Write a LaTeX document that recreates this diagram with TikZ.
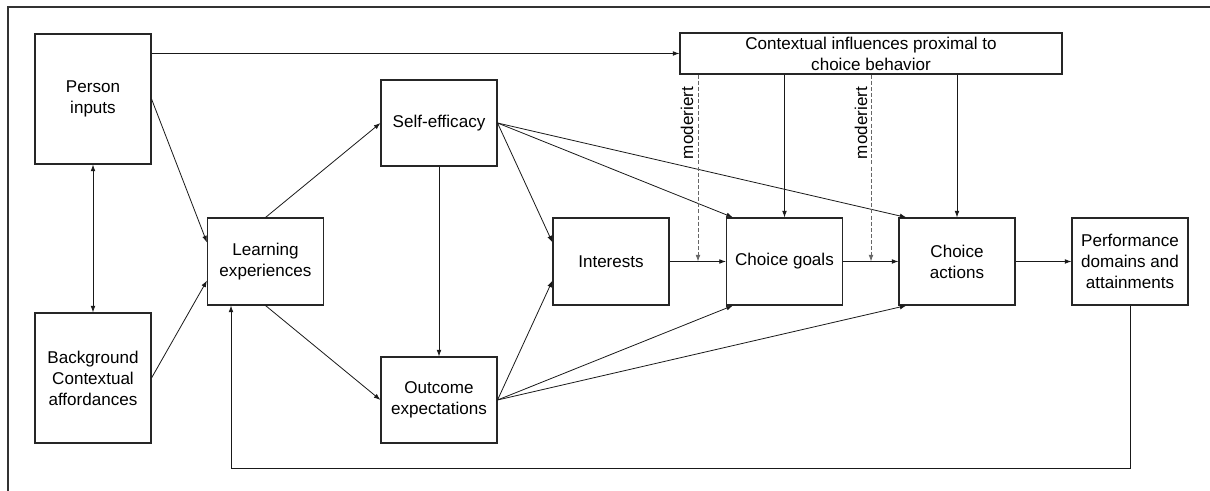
\documentclass[tikz,border=0pt]{standalone}
\usepackage{fontspec}
\setmainfont{Liberation Sans}
\usetikzlibrary{arrows.meta,calc}
\begin{document}
\begin{tikzpicture}[x=0.75pt,y=-0.75pt,
 box/.style={draw=black!85, line width=0.8pt, align=center, font=\fontsize{12.8}{15.75}\selectfont, inner sep=0pt},
 wide/.style={box, minimum width=87pt, minimum height=65.25pt},
 tall/.style={box, minimum width=87pt, minimum height=97.5pt},
 arr/.style={-{Latex[length=5pt,width=3.6pt]}, line width=0.6pt, draw=black!90},
 dasharr/.style={arr, dash pattern=on 3pt off 1.6pt, draw=black!60},
 lab/.style={font=\fontsize{12.8}{15.75}\selectfont, rotate=90, inner sep=0pt}]
\useasboundingbox (0,0) rectangle (1210,491);
\draw[line width=0.8pt, black!80] (8,491) -- (8,7) -- (1210,7);

\node[tall] (person) at (93,99) {Person\\inputs};
\node[tall] (back) at (93,378) {Background\\Contextual\\affordances};
\node[wide] (learn) at (265.5,261.5) {Learning\\experiences};
\node[box, minimum width=87pt, minimum height=64.5pt] (self) at (439,123) {Self-efficacy};
\node[box, minimum width=87pt, minimum height=64.5pt] (outc) at (439,400) {Outcome\\expectations};
\node[wide] (inter) at (611,261.5) {Interests};
\node[wide] (goals) at (784.5,261.5) {Choice goals};
\node[wide] (act) at (957,261.5) {Choice\\actions};
\node[wide] (perf) at (1130,261.5) {Performance\\domains and\\attainments};
\node[box, minimum width=286.5pt, minimum height=30.75pt] (ctx) at (871,53.5) {Contextual influences proximal to\\choice behavior};

\draw[arr] (person.east |- ctx.west) -- (ctx.west);
\draw[arr, {Latex[length=5pt,width=3.6pt]}-{Latex[length=5pt,width=3.6pt]}] (person.south) -- (back.north);
\draw[arr] (person.east) -- ($(learn.north west)+(0,25)$);
\draw[arr] (back.east) -- ($(learn.south west)+(0,-25)$);
\draw[arr] (learn.north) -- (self.west);
\draw[arr] (learn.south) -- (outc.west);
\draw[arr] (self.south) -- (outc.north);
\draw[arr] (self.east) -- ($(inter.north west)+(0,25)$);
\draw[arr] (self.east) -- ($(goals.north west)+(7,0)$);
\draw[arr] (self.east) -- ($(act.north west)+(8,0)$);
\draw[arr] (outc.east) -- ($(inter.south west)+(0,-25)$);
\draw[arr] (outc.east) -- ($(goals.south west)+(7,0)$);
\draw[arr] (outc.east) -- ($(act.south west)+(8,0)$);
\draw[arr] (inter.east) -- (goals.west);
\draw[arr] (goals.east) -- (act.west);
\draw[arr] (act.east) -- (perf.west);
\draw[arr] (ctx.south -| goals.north) -- (goals.north);
\draw[arr] (ctx.south -| act.north) -- (act.north);

\coordinate (m1) at (698,261.5);
\coordinate (m2) at (871,261.5);
\draw[dasharr] (ctx.south -| m1) -- (m1);
\draw[dasharr] (ctx.south) -- (m2);
\node[lab] (l1) at (687,123) {moderiert};
\node[lab] (l2) at (861,123) {moderiert};

\coordinate (fb1) at (1130,468);
\coordinate (fb2) at (231,468);
\draw[arr] (perf.south) -- (fb1) -- (fb2) -- (fb2 |- learn.south);
\end{tikzpicture}
\end{document}
